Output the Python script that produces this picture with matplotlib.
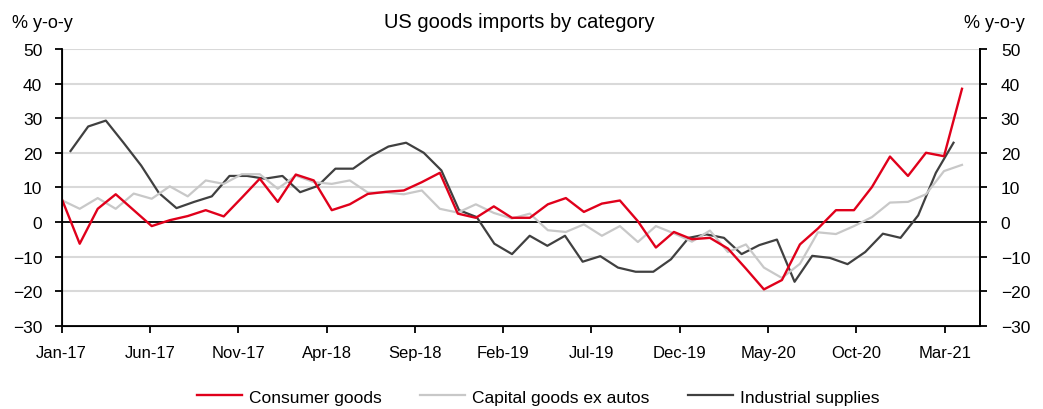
import matplotlib
matplotlib.use('Agg')
import matplotlib.pyplot as plt
from matplotlib import font_manager
import numpy as np

# data (% y-o-y), monthly Jan-17 .. Mar-21
months = ['Jan-17', 'Jun-17', 'Nov-17', 'Apr-18', 'Sep-18', 'Feb-19',
          'Jul-19', 'Dec-19', 'May-20', 'Oct-20', 'Mar-21']
consumer = [6.7, -6.3, 3.8, 8.0, 3.4, -1.2, 0.5, 1.7, 3.4, 1.6,
            7.0, 12.5, 5.8, 13.7, 12.0, 3.4, 5.1, 8.1, 8.7, 9.1,
            11.5, 14.2, 2.4, 1.2, 4.5, 1.2, 1.2, 5.1, 6.9, 2.9,
            5.3, 6.2, 0.2, -7.4, -2.9, -5.0, -4.6, -7.7, -13.5, -19.5,
            -16.8, -6.5, -1.9, 3.4, 3.4, 10.1, 18.9, 13.3, 20.0, 19.0,
            38.5]
capital = [6.3, 3.8, 6.9, 3.8, 8.2, 6.7, 10.3, 7.4, 12.0, 11.0,
           13.8, 13.8, 9.6, 13.4, 11.5, 11.0, 12.0, 8.5, 8.5, 8.0,
           9.1, 3.8, 2.7, 5.1, 2.6, 1.0, 2.4, -2.4, -2.9, -0.7,
           -4.0, -1.2, -5.8, -1.2, -3.3, -5.7, -2.5, -8.7, -6.5, -13.2,
           -16.2, -12.1, -3.0, -3.5, -1.2, 1.4, 5.6, 5.8, 8.0, 14.7,
           16.5]
industrial = [20.5, 27.6, 29.3, 22.9, 16.3, 8.4, 4.0, 5.8, 7.4, 13.3,
              13.3, 12.5, 13.3, 8.6, 10.4, 15.4, 15.4, 19.0, 21.8, 22.9,
              20.0, 14.9, 3.4, 1.4, -6.3, -9.3, -4.0, -6.9, -4.0, -11.5,
              -9.9, -13.2, -14.4, -14.4, -10.8, -4.6, -3.6, -4.6, -9.3, -6.7,
              -5.1, -17.3, -9.8, -10.4, -12.2, -8.7, -3.4, -4.6, 1.9, 14.2,
              22.9]

names = {f.name for f in font_manager.fontManager.ttflist}
fam = 'Liberation Sans Narrow' if 'Liberation Sans Narrow' in names else 'Liberation Sans'
plt.rcParams['font.family'] = [fam, 'DejaVu Sans']
fs = 12.5

red = '#e0001b'
lgray = '#c8c8c8'
dgray = '#404040'

fig = plt.figure(figsize=(10.43, 4.10), dpi=100)
ax = fig.add_axes([61.7/1043, 1-326.7/410, (980-61.7)/1043, (326.7-50)/410])

n = len(consumer)
x_prim = np.arange(n) * 52 / 51          # on-tick positions
x_sec = np.arange(len(industrial)) + 0.5  # between-tick positions

for v in range(-20, 51, 10):
    if v != 0:
        ax.axhline(v, color='#d9d9d9', lw=1.5, zorder=1)
ax.axhline(0, color='black', lw=1.3, zorder=2)

ax.plot(x_sec, industrial, color=dgray, lw=1.6, zorder=3, label='Industrial supplies')
ax.plot(x_prim, capital, color=lgray, lw=1.6, zorder=4, label='Capital goods ex autos')
ax.plot(x_prim, consumer, color=red, lw=1.7, zorder=5, label='Consumer goods')

ax.set_xlim(0, 52)
ax.set_ylim(-30, 50)
ax.set_xticks(np.arange(0, 51, 5))
ax.set_xticklabels(months, fontsize=12)
ax.set_yticks(np.arange(-30, 51, 10))
ax.tick_params(axis='y', labelsize=fs, direction='out', length=5, width=1.3, pad=9)
ax.tick_params(axis='x', direction='out', length=5, width=1.3, pad=9)
ax.spines['top'].set_visible(False)
for s in ['left', 'right', 'bottom']:
    ax.spines[s].set_linewidth(1.3)

ax2 = ax.twinx()
ax2.set_ylim(-30, 50)
ax2.set_yticks(np.arange(-30, 51, 10))
ax2.tick_params(axis='y', labelsize=fs, direction='out', length=5, width=1.3, pad=10)
ax2.spines['top'].set_visible(False)
ax2.spines['right'].set_linewidth(1.3)

fig.text(519/1043, 1-23/410, 'US goods imports by category', ha='center', va='center', fontsize=14.5)
fig.text(12/1043, 1-23/410, '% y-o-y', ha='left', va='center', fontsize=13)
fig.text(1025/1043, 1-23/410, '% y-o-y', ha='right', va='center', fontsize=13)

h, l = ax.get_legend_handles_labels()
order = [2, 1, 0]
fig.legend([h[i] for i in order], [l[i] for i in order], loc='center',
           bbox_to_anchor=(538/1043, 1-398/410), ncol=3, frameon=False,
           fontsize=fs, handlelength=2.6, columnspacing=2.2, handletextpad=0.4)

plt.savefig('out.png', dpi=100)
plt.close()
